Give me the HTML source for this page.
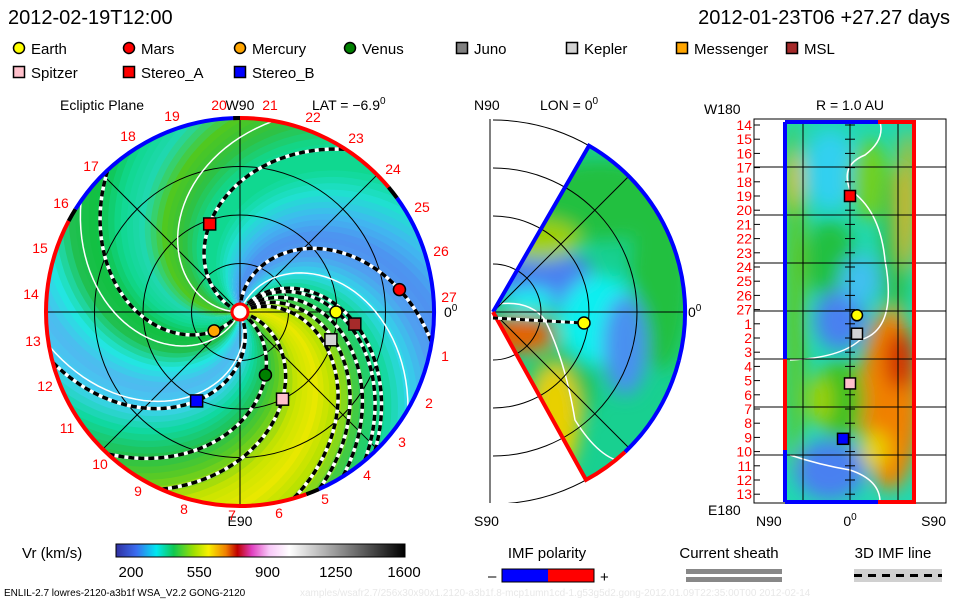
<!DOCTYPE html>
<html><head><meta charset="utf-8"><style>
html,body{margin:0;padding:0;background:#fff}
svg{display:block;font-family:"Liberation Sans",sans-serif}
</style></head><body>
<svg id="s" width="960" height="600" viewBox="0 0 960 600" xmlns="http://www.w3.org/2000/svg">
<defs>
<clipPath id="cL"><circle cx="240" cy="312" r="194"/></clipPath>
<clipPath id="cM"><path d="M493,312 L589.0,145.7 A192,192 0 0 1 586.0,479.9 Z"/></clipPath>
<clipPath id="cMbox"><rect x="490" y="119" width="200" height="384"/></clipPath>
<clipPath id="cR"><rect x="785" y="122" width="130" height="380"/></clipPath>
<filter id="bl" x="-50%" y="-50%" width="200%" height="200%"><feGaussianBlur stdDeviation="9"/></filter>
<linearGradient id="cbar" x1="0" x2="1" y1="0" y2="0">
<stop offset="0" stop-color="#3030a0"/><stop offset="0.07" stop-color="#3a6cf0"/><stop offset="0.14" stop-color="#00e8f0"/><stop offset="0.2" stop-color="#10c850"/><stop offset="0.27" stop-color="#a0e000"/><stop offset="0.32" stop-color="#f8f000"/><stop offset="0.38" stop-color="#f08000"/><stop offset="0.42" stop-color="#c00000"/><stop offset="0.47" stop-color="#e040c0"/><stop offset="0.53" stop-color="#f8c8f8"/><stop offset="0.6" stop-color="#ffffff"/><stop offset="1" stop-color="#000000"/>
</linearGradient>
</defs>

<text x="8" y="24" font-size="20">2012-02-19T12:00</text>
<text x="950" y="24" font-size="20" text-anchor="end">2012-01-23T06 +27.27 days</text>

<g id="legend" font-size="15"></g>

<g>
<text x="60" y="110" font-size="14">Ecliptic Plane</text>
<text x="240" y="110" font-size="14" text-anchor="middle">W90</text>
<text x="312" y="110" font-size="14">LAT = −6.9<tspan dy="-6" font-size="10">0</tspan></text>
<text x="240" y="526" font-size="14" text-anchor="middle">E90</text>
<text x="444" y="317" font-size="14">0<tspan dy="-6" font-size="10">0</tspan></text>
<g id="bands" clip-path="url(#cL)"></g>
<g id="lgrid" stroke="#000" stroke-width="1" fill="none"></g>
<g id="lspir" clip-path="url(#cL)" fill="none"></g>
<g id="rim" fill="none" stroke-width="4"></g>
<g id="nums" fill="#f00" font-size="14" text-anchor="middle"></g>
<circle cx="240" cy="312" r="8" fill="#fff" stroke="#f00" stroke-width="3"/>
<g id="lplan"></g>
</g>

<g>
<text x="474" y="110" font-size="14">N90</text>
<text x="540" y="110" font-size="14">LON = 0<tspan dy="-6" font-size="10">0</tspan></text>
<text x="474" y="526" font-size="14">S90</text>
<text x="688" y="317" font-size="14">0<tspan dy="-6" font-size="10">0</tspan></text>
<line x1="490" y1="119" x2="490" y2="503" stroke="#000"/>
<g clip-path="url(#cM)">
<rect x="490" y="119" width="200" height="384" fill="#18d090"/>
<g filter="url(#bl)">
<ellipse cx="600" cy="200" rx="70" ry="40" fill="#20c040"/>
<ellipse cx="660" cy="280" rx="30" ry="90" fill="#20c040"/>
<ellipse cx="545" cy="280" rx="50" ry="30" fill="#4a80f0"/>
<ellipse cx="600" cy="320" rx="40" ry="45" fill="#10f0f0"/>
<ellipse cx="625" cy="345" rx="22" ry="50" fill="#4a90f0"/>
<ellipse cx="560" cy="390" rx="35" ry="40" fill="#20c050"/>
<ellipse cx="520" cy="335" rx="35" ry="18" fill="#e86000"/>
<ellipse cx="555" cy="420" rx="25" ry="55" fill="#e8d000"/>
<ellipse cx="540" cy="240" rx="40" ry="20" fill="#a0d000"/>
<ellipse cx="530" cy="300" rx="25" ry="12" fill="#10f0f0"/>
</g>
<path d="M498,304 Q530,300 545,320 Q565,360 575,420 Q600,460 625,462" stroke="#fff" stroke-width="1.5" fill="none"/>
</g>
<g clip-path="url(#cMbox)" id="mgrid" fill="none" stroke="#000" stroke-width="1"></g>
<path d="M493,312 L589.0,145.7 A192,192 0 0 1 679,360" fill="none" stroke="#0000ff" stroke-width="4"/>
<path d="M679,360 A192,192 0 0 1 625,452" fill="none" stroke="#0000ff" stroke-width="4"/>
<path d="M625,452 A192,192 0 0 1 586.0,479.9 L493,312" fill="none" stroke="#ff0000" stroke-width="4"/>
<path d="M493,318 L583,323" stroke="#fff" stroke-width="3"/><path d="M493,318 L583,323" stroke="#000" stroke-width="3" stroke-dasharray="5,4"/>
<circle cx="584" cy="323" r="6" fill="#ff0" stroke="#000" stroke-width="1.5"/>
</g>

<g>
<text x="850" y="110" font-size="14" text-anchor="middle">R = 1.0 AU</text>
<text x="704" y="114" font-size="14">W180</text>
<text x="708" y="515" font-size="14">E180</text>
<text x="756" y="526" font-size="14">N90</text>
<text x="850" y="526" font-size="14" text-anchor="middle">0<tspan dy="-6" font-size="10">0</tspan></text>
<text x="946" y="526" font-size="14" text-anchor="end">S90</text>
<g clip-path="url(#cR)">
<rect x="785" y="122" width="130" height="380" fill="#20d8b0"/>
<g filter="url(#bl)">
<ellipse cx="795" cy="300" rx="10" ry="180" fill="#60c820"/>
<ellipse cx="793" cy="180" rx="8" ry="30" fill="#e8c000"/>
<ellipse cx="830" cy="170" rx="25" ry="40" fill="#30d0f0"/>
<ellipse cx="870" cy="180" rx="20" ry="40" fill="#70d020"/>
<ellipse cx="830" cy="260" rx="25" ry="40" fill="#20c040"/>
<ellipse cx="840" cy="320" rx="25" ry="30" fill="#4a80f0"/>
<ellipse cx="860" cy="280" rx="20" ry="25" fill="#40c0f0"/>
<ellipse cx="895" cy="250" rx="15" ry="80" fill="#30c050"/>
<ellipse cx="908" cy="200" rx="8" ry="70" fill="#e8b000"/>
<ellipse cx="890" cy="400" rx="30" ry="90" fill="#f08000"/>
<ellipse cx="900" cy="360" rx="15" ry="30" fill="#d03000"/>
<ellipse cx="840" cy="400" rx="25" ry="40" fill="#40c020"/>
<ellipse cx="820" cy="400" rx="12" ry="25" fill="#a0d000"/>
<ellipse cx="830" cy="470" rx="35" ry="30" fill="#4a80f0"/>
<ellipse cx="875" cy="450" rx="15" ry="20" fill="#e8d000"/>
</g>
<path d="M880,122 Q885,140 865,155 Q840,165 850,190 Q880,210 885,260 Q898,330 860,340 Q840,358 790,360" stroke="#fff" stroke-width="1.5" fill="none"/>
<path d="M790,455 Q820,465 850,470 Q880,480 880,502" stroke="#fff" stroke-width="1.5" fill="none"/>
</g>
<g id="rgrid" stroke="#000" stroke-width="1" fill="none"></g>
<g id="rnums" fill="#f00" font-size="14" text-anchor="end"></g>
<path d="M785,122 V359" stroke="#00f" stroke-width="4" fill="none"/>
<path d="M785,359 V450" stroke="#f00" stroke-width="4" fill="none"/>
<path d="M785,450 V502" stroke="#00f" stroke-width="4" fill="none"/>
<path d="M785,122 H878 M785,502 H878" stroke="#00f" stroke-width="4" fill="none"/>
<path d="M878,122 H914 V502 H878" stroke="#f00" stroke-width="4" fill="none"/>
<g id="rplan"></g>
</g>

<text x="22" y="558" font-size="15">Vr (km/s)</text>
<rect x="116" y="544" width="289" height="13" fill="url(#cbar)" stroke="#000" stroke-width="1"/>
<g id="cbt" font-size="15" text-anchor="middle"></g>
<text x="547" y="558" font-size="15" text-anchor="middle">IMF polarity</text>
<text x="488" y="581" font-size="15">–</text>
<rect x="502" y="569" width="46" height="13" fill="#00f"/>
<rect x="548" y="569" width="46" height="13" fill="#f00"/>
<rect x="502" y="569" width="92" height="13" fill="none" stroke="#000"/>
<text x="600" y="582" font-size="15">+</text>
<text x="729" y="558" font-size="15" text-anchor="middle">Current sheath</text>
<rect x="686" y="569" width="96" height="5" fill="#888"/>
<rect x="686" y="577" width="96" height="5" fill="#888"/>
<text x="893" y="558" font-size="15" text-anchor="middle">3D IMF line</text>
<rect x="854" y="569" width="88" height="13" fill="#d0d0d0"/>
<line x1="854" y1="575.5" x2="942" y2="575.5" stroke="#000" stroke-width="3" stroke-dasharray="8,6"/>
<text x="4" y="596" font-size="10">ENLIL-2.7 lowres-2120-a3b1f WSA_V2.2 GONG-2120</text>
<text x="300" y="596" font-size="10" fill="#e8e8e8">xamples/wsafr2.7/256x30x90x1.2120-a3b1f.8-mcp1umn1cd-1.g53g5d2.gong-2012.01.09T22:35:00T00   2012-02-14</text>

<script>
const NS="http://www.w3.org/2000/svg";
function mk(t,a,p){const e=document.createElementNS(NS,t);for(const k in a)e.setAttribute(k,a[k]);p.appendChild(e);return e;}
const cx=240,cy=312,AU=97,K=50;
const rimColors=["#4f90f0","#50a0f0","#30d8e8","#10d890","#30c850","#b0e000","#e8e800","#c8e400","#60cc20","#20c050","#10d8a0","#40d0f0","#50b8f0","#20e8e0","#20c050","#10c040","#10d890","#20d8b0","#50c820","#30c040","#10d890","#10d890","#20e0d0","#40b8f0"];
const imfOuter=[9,46,50,58,66,74,114,133,165,227,303];
const whiteContours=[30,170,215,280];
const planetNames=["Earth","Mars","Mercury","Venus","Juno","Kepler","Messenger","MSL","Spitzer","Stereo_A","Stereo_B"];
const planetColors=["#ffff00","#ff0000","#ffa500","#008000","#808080","#d3d3d3","#ffa500","#a52a2a","#ffc0cb","#ff0000","#0000ff"];
const planetShapes=["c","c","c","c","s","s","s","s","s","s","s"];
const plR=[0.99,1.66,0.33,0.70,null,0.98,null,1.19,1.0,0.96,1.02];
const plA=[0,-8,144,68,null,17,null,6,64,-109,116];
const rpRow=[13.4,null,null,null,null,14.7,null,null,18.2,5.0,22.1];
const rpLat=[7,null,null,null,null,7,null,null,0,0,-7];
const cbLabels=["200","550","900","1250","1600"];
const dayLabels=["14","15","16","17","18","19","20","21","22","23","24","25","26","27","1","2","3","4","5","6","7","8","9","10","11","12","13"];
const rimLabels=["20","21","22","23","24","25","26","27","1","2","3","4","5","6","7","8","9","10","11","12","13","14","15","16","17","18","19"];
const rimLabelPos=[[219,110],[270,110],[313,122],[356,143],[393,174],[422,212],[441,256],[449,302],[445,361],[429,408],[402,447],[367,480],[325,504],[279,518],[232,520],[184,514],[138,496],[100,469],[67,433],[45,391],[33,346],[31,299],[40,253],[61,208],[91,171],[128,141],[172,121]];

function pt(r,ang){const a=ang*Math.PI/180;return [cx+AU*r*Math.cos(a),cy+AU*r*Math.sin(a)];}
function spiral(outer,r0,r1){const p=[];for(let r=r0;r<=r1+1e-6;r+=0.05){p.push(pt(r,outer-K*(2-r)));}return p;}
function hexmix(a,b,t){const pa=[1,3,5].map(i=>parseInt(a.substr(i,2),16)),pb=[1,3,5].map(i=>parseInt(b.substr(i,2),16));return "rgb("+pa.map((v,i)=>Math.round(v+(pb[i]-v)*t)).join(",")+")";}
function colAt(ang){ang=((ang%360)+360)%360;const i=Math.floor(ang/15),t=(ang-i*15)/15;return hexmix(rimColors[i%24],rimColors[(i+1)%24],t);}

const bands=document.getElementById("bands");
for(let a=0;a<360;a+=4){
  const s1=spiral(a,0,2.1),s2=spiral(a+4.5,0,2.1).reverse();
  const d="M"+s1.concat(s2).map(p=>p[0].toFixed(1)+","+p[1].toFixed(1)).join(" L")+"Z";
  const e=mk("path",{d:d,fill:colAt(a+2)},bands);
  
  
}
const g=document.getElementById("lgrid");
[0.5,1,1.5,2].forEach(r=>{const c=mk("circle",{cx:cx,cy:cy,r:AU*r},g);});
[0,45,90,135].forEach(a=>{const p1=pt(2,a),p2=pt(2,a+180);const l=mk("line",{x1:p1[0],y1:p1[1],x2:p2[0],y2:p2[1]},g);});
const ls=document.getElementById("lspir");
whiteContours.forEach(o=>{const d="M"+spiral(o,0.1,2.1).map(p=>p.join(",")).join(" L");const e=mk("path",{d:d,stroke:"#fff","stroke-width":1.5},ls);});
imfOuter.forEach(o=>{const d="M"+spiral(o,0.12,2.1).map(p=>p.join(",")).join(" L");
  const w=mk("path",{d:d,stroke:"#fff","stroke-width":3.5},ls);
  const b=mk("path",{d:d,stroke:"#000","stroke-width":3.5,"stroke-dasharray":"6,4"},ls);});
const rim=document.getElementById("rim");
function arc(a0,a1,col){const p0=pt(2,a0),p1=pt(2,a1);const large=(a1-a0)>180?1:0;const e=mk("path",{d:`M${p0[0]},${p0[1]} A194,194 0 ${large} 1 ${p1[0]},${p1[1]}`,stroke:col},rim);}
arc(-92,-40,"#f00");arc(-40,-36,"#000");arc(-36,66,"#00f");arc(66,70,"#000");arc(70,208,"#f00");arc(208,212,"#000");arc(212,270,"#00f");arc(268,270,"#000");
const nums=document.getElementById("nums");
rimLabels.forEach((t,i)=>{const e=mk("text",{x:rimLabelPos[i][0],y:rimLabelPos[i][1]},nums);e.textContent=t;});
function marker(parent,i,x,y,sz){let e;if(planetShapes[i]=="c")e=mk("circle",{cx:x,cy:y,r:sz/2,fill:planetColors[i],stroke:"#000","stroke-width":1.5},parent);else e=mk("rect",{x:x-sz/2,y:y-sz/2,width:sz,height:sz,fill:planetColors[i],stroke:"#000","stroke-width":1.5},parent);return e;}
const lp=document.getElementById("lplan");
planetNames.forEach((n,i)=>{if(plR[i]==null)return;const p=pt(plR[i],plA[i]);const e=marker(lp,i,p[0],p[1],12);});
const lg=document.getElementById("legend");
const colX=[12,122,233,343,455,565,675,785];
planetNames.forEach((n,i)=>{const x=colX[i%8]+7,y=i<8?48:72;const e=marker(lg,i,x,y,11);
  const t=mk("text",{x:x+12,y:y+6},lg);t.textContent=n;});
const mg=document.getElementById("mgrid");const mcx=493,mcy=312;
[48,96,144,192].forEach(r=>{const e=mk("path",{d:`M${mcx},${mcy-r} A${r},${r} 0 0 1 ${mcx},${mcy+r}`},mg);});
[-45,0,45].forEach(a=>{const q=a*Math.PI/180;const e=mk("line",{x1:mcx,y1:mcy,x2:mcx+192*Math.cos(q),y2:mcy+192*Math.sin(q)},mg);});
const rg=document.getElementById("rgrid");
const rb=mk("rect",{x:754,y:119,width:192,height:384},rg);
for(let k=1;k<8;k++){const e=mk("line",{x1:754,y1:119+48*k,x2:946,y2:119+48*k},rg);}
[803,850,898].forEach(x=>{const e=mk("line",{x1:x,y1:122,x2:x,y2:502},rg);});
const rn=document.getElementById("rnums");
const rowY=i=>125+i*14.2;
dayLabels.forEach((t,i)=>{const e=mk("text",{x:752,y:rowY(i)+5},rn);e.textContent=t;
  const tk=mk("line",{x1:754,y1:rowY(i),x2:760,y2:rowY(i),stroke:"#000"},rg);
  const tk2=mk("line",{x1:845,y1:rowY(i),x2:855,y2:rowY(i),stroke:"#000"},rg);});
const rp=document.getElementById("rplan");
planetNames.forEach((n,i)=>{if(rpRow[i]==null)return;const e=marker(rp,i,850+rpLat[i],rowY(rpRow[i]),11);});
const cb=document.getElementById("cbt");
cbLabels.forEach((t,i)=>{const x=131+i*(273/4);const e=mk("text",{x:x,y:577},cb);e.textContent=t;});
</script>
</svg>
</body></html>
